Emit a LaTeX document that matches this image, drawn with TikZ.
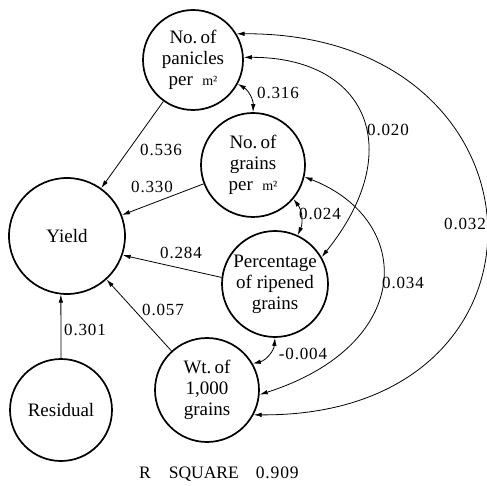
\documentclass[tikz,border=0pt]{standalone}
\usepackage{fontspec}
\setmainfont{Liberation Serif}
\newfontfamily\numfont[LetterSpace=5]{Liberation Serif}
\usetikzlibrary{arrows.meta}
\begin{document}
\begin{tikzpicture}[x=1pt,y=-1pt,
  var/.style={circle, draw, line width=1.7pt, inner sep=0pt, align=center,
    font=\fontsize{19}{21}\selectfont},
  lab/.style={inner sep=0pt, font=\numfont\fontsize{17}{20}\selectfont},
  arr/.style={line width=0.8pt, -{Latex[length=8pt,width=4.5pt]}},
  darr/.style={line width=0.8pt, {Latex[length=8pt,width=4.5pt]}-{Latex[length=8pt,width=4.5pt]}}]
\useasboundingbox (0,0) rectangle (487,486);
% variables
\node[var, minimum size=100pt] (pan) at (193,60) {No.\,of\\panicles\\per\hspace{0.5em}{\fontsize{14}{14}\selectfont m²}};
\node[var, minimum size=104pt] (grn) at (253,165) {No.\,of\\grains\\per\hspace{0.5em}{\fontsize{14}{14}\selectfont m²}};
\node[var, minimum size=106pt] (pct) at (275,284) {Percentage\\of ripened\\grains};
\node[var, minimum size=104pt] (wt) at (207,390) {Wt.\,of\\1,000\\grains};
\node[var, minimum size=116pt] (yld) at (67,236) {Yield};
\node[var, minimum size=102pt] (res) at (61,410) {Residual};
% direct paths
\draw[arr] (pan) -- (yld);
\draw[arr] (grn) -- (yld);
\draw[arr] (pct.173) -- (yld.-19);
\draw[arr] (wt) -- (yld);
\draw[arr] (res.north) -- (yld.-96);
% correlations
\draw[darr] (pan.-28) to[bend left=30] (grn.90);
\draw[darr] (grn.-40) to[bend left=30] (pct.65);
\draw[darr] (pct.-90) to[bend left=36] (wt.30);
\draw[darr] (pan.3) .. controls (367,57) and (408,150) .. (pct.30);
\draw[darr] (grn.-13) .. controls (415,220) and (415,345) .. (wt.-5);
\draw[darr] (pan.31) .. controls (558,32) and (574,417) .. (wt.-28);
% labels
\node[lab] (l536) at (161,150) {0.536};
\node[lab] (l330) at (152,187) {0.330};
\node[lab] (l284) at (181,253) {0.284};
\node[lab] (l057) at (163,310) {0.057};
\node[lab] (l301) at (85,330) {0.301};
\node[lab] (l316) at (278,93) {0.316};
\node[lab] (l024) at (320,214) {0.024};
\node[lab] (l004) at (303,354) {-0.004};
\node[lab] (l020) at (388,130) {0.020};
\node[lab] (l034) at (403,283) {0.034};
\node[lab] (l032) at (465,224) {0.032};
\node[lab, anchor=west, font=\fontsize{17.5}{20}\selectfont] (rsq) at (139,474) {R\hspace{18pt}SQUARE\hspace{17pt}{\numfont 0.909}};
\end{tikzpicture}
\end{document}
